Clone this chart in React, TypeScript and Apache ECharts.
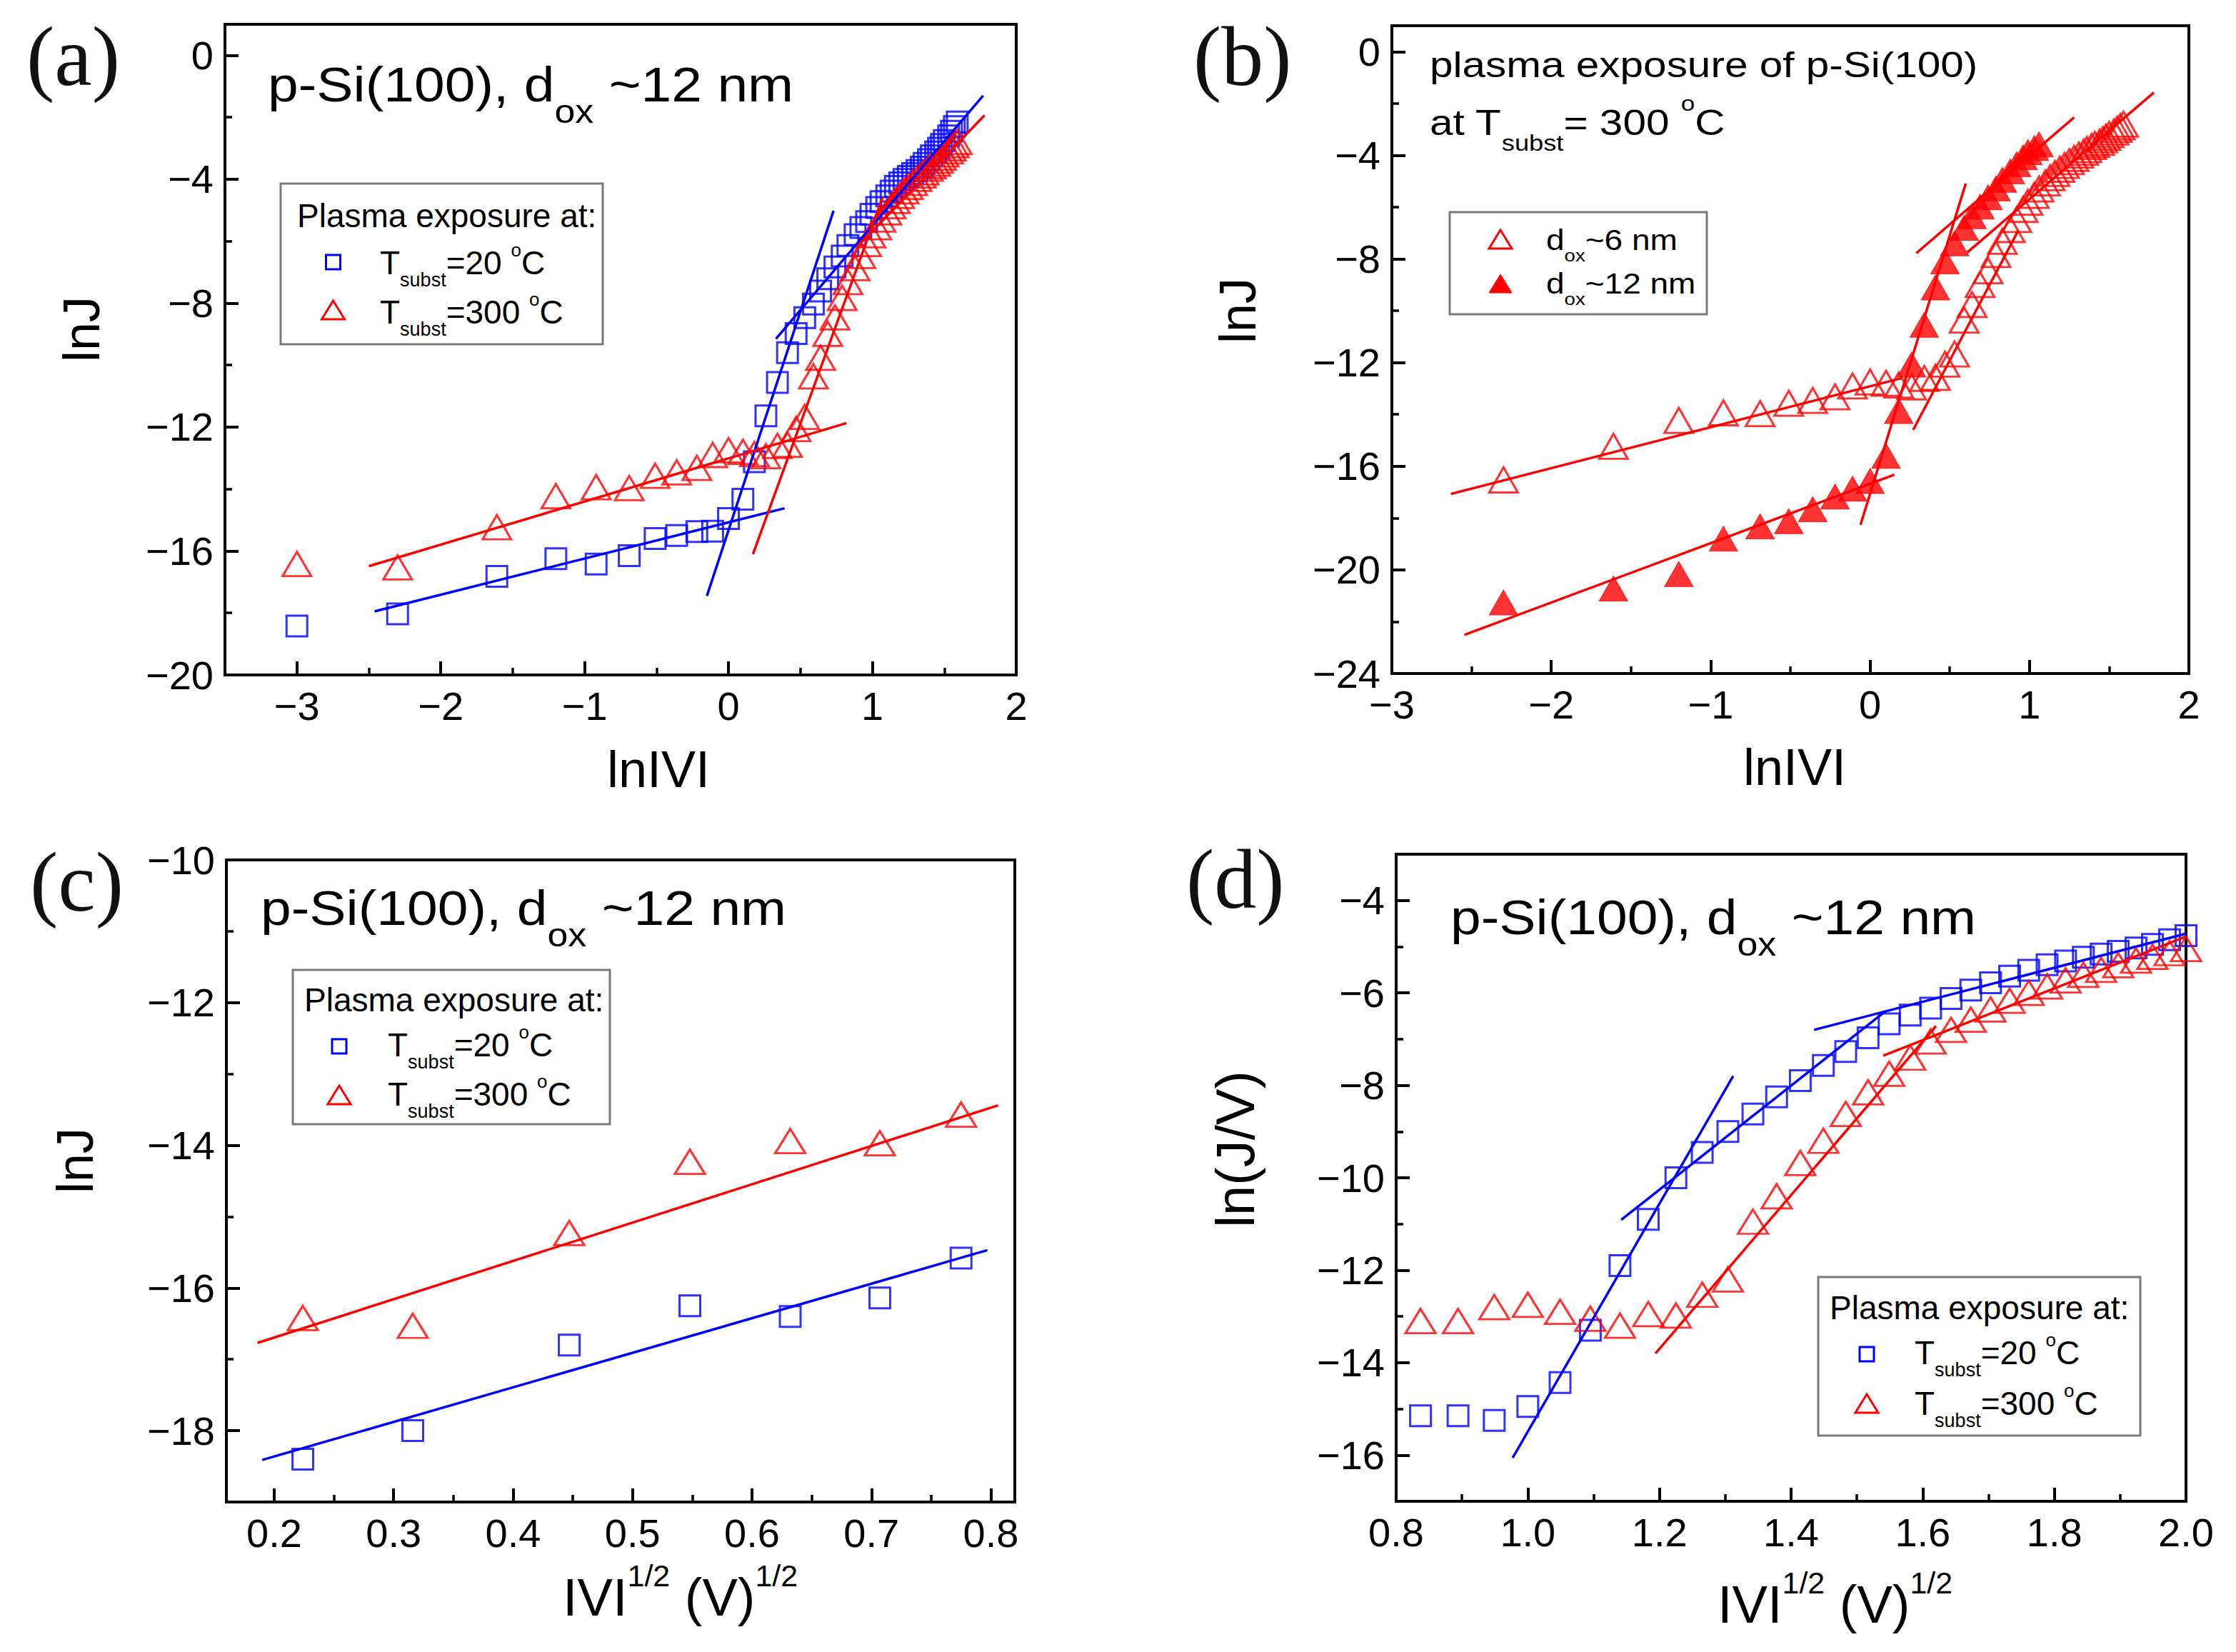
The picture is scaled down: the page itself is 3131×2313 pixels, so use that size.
import React, { useEffect, useRef } from "react";
import * as echarts from "echarts";

// ---------- data ----------
// abscissa of panels (a) and (b): ln|V|
const lnV = [
  -3.0, -2.3, -1.61, -1.2, -0.92, -0.69, -0.51, -0.36, -0.22, -0.11,
  0.0, 0.1, 0.18, 0.26, 0.34, 0.41, 0.47, 0.53, 0.59, 0.64,
  0.69, 0.74, 0.79, 0.83, 0.88, 0.92, 0.96, 0.99, 1.03, 1.06,
  1.1, 1.13, 1.16, 1.19, 1.22, 1.25, 1.28, 1.31, 1.34, 1.36,
  1.39, 1.41, 1.44, 1.46, 1.48, 1.5, 1.53, 1.55, 1.57, 1.59,
];
// (a) lnJ, T_subst = 20 C (blue squares)
const aBlue = [
  -18.42, -18.03, -16.82, -16.25, -16.42, -16.15, -15.6, -15.5, -15.37, -15.36,
  -14.95, -14.33, -13.12, -11.64, -10.56, -9.6, -8.98, -8.47, -8.03, -7.61,
  -7.21, -6.83, -6.48, -6.14, -5.79, -5.56, -5.37, -5.13, -4.91, -4.72,
  -4.54, -4.38, -4.23, -4.12, -4.01, -3.91, -3.82, -3.72, -3.61, -3.49,
  -3.37, -3.25, -3.12, -3.0, -2.88, -2.75, -2.6, -2.45, -2.3, -2.15,
];
// (a) lnJ, T_subst = 300 C (red triangles) ; also the open triangles of (b)
const aRed = [
  -16.42, -16.53, -15.23, -14.23, -13.94, -13.97, -13.57, -13.46, -13.32, -12.9,
  -12.75, -12.8, -12.87, -12.94, -12.61, -12.57, -12.06, -11.67, -10.36, -9.76,
  -8.99, -8.46, -7.83, -7.32, -6.87, -6.48, -6.09, -5.81, -5.55, -5.3,
  -5.07, -4.87, -4.7, -4.54, -4.39, -4.25, -4.12, -3.99, -3.88, -3.78,
  -3.66, -3.58, -3.5, -3.4, -3.3, -3.2, -3.1, -3.0, -2.9, -2.8,
];
// (b) filled triangles, d_ox ~12 nm (x = lnV[1..29])
const bFilled = [
  -21.26, -20.72, -20.16, -18.8, -18.32, -18.12, -17.66, -17.17, -16.87, -16.57,
  -15.6, -13.87, -12.08, -10.54, -9.1, -8.1, -7.4, -6.8, -6.35, -5.98,
  -5.62, -5.28, -4.95, -4.62, -4.35, -4.08, -3.88, -3.72, -3.58,
];
// (c) |V|^1/2 vs lnJ
const cX = [0.224, 0.316, 0.447, 0.548, 0.632, 0.707, 0.775];
const cBlue = [-18.4, -18.0, -16.8, -16.25, -16.4, -16.14, -15.58];
const cRed = [-16.42, -16.53, -15.23, -14.23, -13.94, -13.97, -13.57];
// (d) |V|^1/2 vs ln(J/V)
const dX = [
  0.837, 0.894, 0.949, 1.0, 1.049, 1.095, 1.14, 1.183, 1.225, 1.265,
  1.304, 1.342, 1.378, 1.414, 1.449, 1.483, 1.517, 1.549, 1.581, 1.612,
  1.643, 1.673, 1.703, 1.732, 1.761, 1.789, 1.817, 1.844, 1.871, 1.897,
  1.924, 1.949, 1.975, 2.0,
];
const dBlue = [
  -15.15, -15.15, -15.25, -14.95, -14.43, -13.3, -11.9, -10.9, -10.0, -9.45,
  -9.0, -8.62, -8.25, -7.9, -7.57, -7.27, -6.97, -6.67, -6.48, -6.33,
  -6.12, -5.94, -5.78, -5.64, -5.51, -5.39, -5.31, -5.23, -5.16, -5.1,
  -5.03, -4.95, -4.85, -4.76,
];
const dRed = [
  -13.1, -13.1, -12.8, -12.75, -12.9, -13.05, -13.2, -12.95, -12.98, -12.53,
  -12.2, -10.95, -10.4, -9.68, -9.2, -8.62, -8.15, -7.75, -7.4, -7.05,
  -6.8, -6.58, -6.36, -6.17, -6.0, -5.86, -5.73, -5.61, -5.5, -5.4,
  -5.3, -5.22, -5.14, -5.05,
];

// fitted straight lines (end points)
const aBlueFits = [
  [[-2.46, -17.95], [0.39, -14.62]],
  [[-0.15, -17.45], [0.73, -5.02]],
  [[0.33, -9.15], [1.77, -1.3]],
];
const aRedFits = [
  [[-2.5, -16.49], [0.82, -11.87]],
  [[0.17, -16.1], [1.07, -4.6]],
  [[0.9, -6.15], [1.78, -1.94]],
];
const bOpenFits = [
  [[-2.63, -17.07], [0.2, -12.6]],
  [[0.27, -14.6], [0.93, -6.9]],
  [[0.61, -7.75], [1.78, -1.58]],
];
const bFilledFits = [
  [[-2.545, -22.51], [0.152, -16.33]],
  [[-0.06, -18.26], [0.6, -5.09]],
  [[0.29, -7.78], [1.28, -2.54]],
];
const cRedFit = [[0.186, -16.77], [0.806, -13.44]];
const cBlueFit = [[0.19, -18.41], [0.797, -15.47]];
const dBlueFits = [
  [[0.977, -16.06], [1.312, -7.8]],
  [[1.142, -10.91], [1.543, -6.4]],
  [[1.435, -6.8], [2.0, -4.72]],
];
const dRedFits = [
  [[1.194, -13.8], [1.62, -6.72]],
  [[1.54, -7.36], [2.0, -4.78]],
];

// tick values
const abXMajor = [-3, -2, -1, 0, 1, 2];
const abXMinor = [-2.5, -1.5, -0.5, 0.5, 1.5];
const aYMajor = [-20, -16, -12, -8, -4, 0];
const aYMinor = [-18, -14, -10, -6, -2];
const bYMajor = [-24, -20, -16, -12, -8, -4, 0];
const bYMinor = [-22, -18, -14, -10, -6, -2];
const cXMajor = [0.2, 0.3, 0.4, 0.5, 0.6, 0.7, 0.8];
const cXMinor = [0.25, 0.35, 0.45, 0.55, 0.65, 0.75];
const cYMajor = [-18, -16, -14, -12, -10];
const cYMinor = [-17, -15, -13, -11];
const dXMajor = [0.8, 1.0, 1.2, 1.4, 1.6, 1.8, 2.0];
const dXMinor = [0.9, 1.1, 1.3, 1.5, 1.7, 1.9];
const dYMajor = [-16, -14, -12, -10, -8, -6, -4];
const dYMinor = [-15, -13, -11, -9, -7, -5];

// ---------- helpers ----------
const BLUE = "#0000ff";
const RED = "#ff0000";
const SANS = "Liberation Sans";

const fmtInt = (v: number) => (v < 0 ? "\u2212" : "") + String(Math.abs(v));
const fmt1 = (v: number) => v.toFixed(1);

function axisPair(gridIndex: number, min: number, max: number, major: number[], minor: number[], fmt: (v: number) => string, isX: boolean) {
  const common = {
    type: "value",
    gridIndex,
    min,
    max,
    position: isX ? "bottom" : "left",
    offset: 0,
    axisLine: { show: false, onZero: false },
    splitLine: { show: false },
    silent: true,
  };
  return [
    {
      ...common,
      axisTick: { show: true, inside: true, length: 19, customValues: major, lineStyle: { color: "#000", width: 4 } },
      axisLabel: {
        show: true,
        customValues: major,
        formatter: fmt,
        margin: isX ? 15 : 16,
        color: "#000",
        fontFamily: SANS,
        fontSize: 56,
      },
    },
    {
      ...common,
      axisTick: { show: true, inside: true, length: 10, customValues: minor, lineStyle: { color: "#000", width: 3.5 } },
      axisLabel: { show: false },
    },
  ];
}

const pts = (xs: number[], ys: number[]) => ys.map((y, i) => [xs[i], y]);

function squares(xs: number[], ys: number[], p: number) {
  return {
    type: "scatter",
    xAxisIndex: 2 * p,
    yAxisIndex: 2 * p,
    data: pts(xs, ys),
    symbol: "rect",
    symbolSize: 29,
    itemStyle: { color: "rgba(0,0,0,0)", borderColor: BLUE, borderWidth: 3 },
    silent: true,
    z: 3,
  };
}
function triangles(xs: number[], ys: number[], p: number, filled = false, size: number[] = [40, 34]) {
  return {
    type: "scatter",
    xAxisIndex: 2 * p,
    yAxisIndex: 2 * p,
    data: pts(xs, ys),
    symbol: "triangle",
    symbolSize: size,
    itemStyle: filled
      ? { color: RED, borderColor: RED, borderWidth: 1 }
      : { color: "rgba(0,0,0,0)", borderColor: RED, borderWidth: 3 },
    silent: true,
    z: 3,
  };
}
function fitLine(seg: number[][], color: string, p: number) {
  return {
    type: "line",
    xAxisIndex: 2 * p,
    yAxisIndex: 2 * p,
    data: seg,
    symbol: "none",
    showSymbol: false,
    lineStyle: { color, width: 3.5 },
    silent: true,
    z: 4,
  };
}

const K = 0.3465;
type Part = [string, string];
function richLabel(o: {
  x: number; base: number; parts: Part[]; F: number; fs?: number; ds?: number; fp?: number; dp?: number;
  family?: string; scaleX?: number; align?: string; color?: string;
}) {
  const F = o.F;
  const fs = o.fs ?? F * 0.6;
  const ds = o.ds ?? 0;
  const fp = o.fp ?? F * 0.6;
  const dp = o.dp ?? 0;
  const family = o.family ?? SANS;
  const color = o.color ?? "#000";
  const cm = F;
  const top = o.base - K * F - cm;
  const cs = cm + K * F + ds - K * fs;
  const cp = cm + K * F - dp - K * fp;
  const tok = (size: number, c: number) => ({
    fontSize: size,
    fontFamily: family,
    fill: color,
    lineHeight: 2 * c,
    height: 2 * c,
    verticalAlign: "top",
  });
  return {
    type: "text",
    x: o.x,
    y: top,
    scaleX: o.scaleX ?? 1,
    silent: true,
    z: 100,
    style: {
      text: o.parts.map(([t, k]) => `{${k}|${t}}`).join(""),
      align: o.align ?? "left",
      verticalAlign: "top",
      fontFamily: family,
      fontSize: F,
      fill: color,
      rich: { n: tok(F, cm), s: tok(fs, cs), p: tok(fp, cp) },
    },
  };
}
function vText(x: number, y: number, text: string, F: number) {
  return {
    type: "text",
    x,
    y,
    rotation: Math.PI / 2,
    silent: true,
    z: 100,
    style: { text, align: "center", verticalAlign: "middle", fontFamily: SANS, fontSize: F, fill: "#000" },
  };
}
function box(x: number, y: number, w: number, h: number) {
  return {
    type: "rect",
    silent: true,
    z: 90,
    shape: { x, y, width: w, height: h },
    style: { fill: "none", stroke: "#7a7a7a", lineWidth: 3 },
  };
}
function legSquare(cx: number, cy: number) {
  return {
    type: "rect",
    silent: true,
    z: 95,
    shape: { x: cx - 10, y: cy - 10, width: 20, height: 20 },
    style: { fill: "none", stroke: BLUE, lineWidth: 3 },
  };
}
function legTri(cx: number, cy: number, filled = false, w = 32, h = 26) {
  return {
    type: "polygon",
    silent: true,
    z: 95,
    shape: { points: [[cx, cy - h / 2], [cx - w / 2, cy + h / 2], [cx + w / 2, cy + h / 2]] },
    style: filled ? { fill: RED, stroke: RED, lineWidth: 1 } : { fill: "none", stroke: RED, lineWidth: 3 },
  };
}
function tempItem(x: number, base: number, t: string, F = 46) {
  return richLabel({
    x,
    base,
    parts: [["T", "n"], ["subst", "s"], [`=${t} `, "n"], ["o", "p"], ["C", "n"]],
    F,
    fs: 27,
    ds: 17,
    fp: 26,
    dp: 25,
  });
}
function plasmaLegend(rx: number, ry: number, rw: number, rh: number, tx: number, tb: number, sx: number, sy1: number, sy2: number, ix: number, b1: number, b2: number) {
  return [
    box(rx, ry, rw, rh),
    richLabel({ x: tx, base: tb, parts: [["Plasma exposure at:", "n"]], F: 46 }),
    legSquare(sx, sy1),
    tempItem(ix, b1, "20"),
    legTri(sx, sy2),
    tempItem(ix, b2, "300"),
  ];
}
const doxTitle = (x: number, base: number) =>
  richLabel({ x, base, parts: [["p-Si(100), d", "n"], ["ox", "s"], [" ~12 nm", "n"]], F: 68, fs: 46, ds: 30, scaleX: 1.13 });
const panelLabel = (x: number, base: number, t: string) =>
  richLabel({ x, base, parts: [[t, "n"]], F: 118, family: "Liberation Serif", color: "#111" });

export default function App() {
  const ref = useRef<HTMLDivElement>(null);
  useEffect(() => {
    document.body.style.margin = "0";
    if (!ref.current) return;
    const chart = echarts.init(ref.current, undefined, { renderer: "svg" });

    const grids = [
      { left: 315, top: 34, width: 1108, height: 911 },
      { left: 1949, top: 36, width: 1116, height: 907 },
      { left: 317, top: 1204, width: 1104, height: 899 },
      { left: 1955, top: 1196, width: 1106, height: 906 },
    ].map((g) => ({ ...g, show: true, borderColor: "#000", borderWidth: 4, backgroundColor: "transparent" }));

    const xAxis = [
      ...axisPair(0, -3.5, 2, abXMajor, abXMinor, fmtInt, true),
      ...axisPair(1, -3, 2, abXMajor, abXMinor, fmtInt, true),
      ...axisPair(2, 0.16, 0.82, cXMajor, cXMinor, fmt1, true),
      ...axisPair(3, 0.8, 2.0, dXMajor, dXMinor, fmt1, true),
    ];
    const yAxis = [
      ...axisPair(0, -20, 1, aYMajor, aYMinor, fmtInt, false),
      ...axisPair(1, -24, 1, bYMajor, bYMinor, fmtInt, false),
      ...axisPair(2, -19, -10, cYMajor, cYMinor, fmtInt, false),
      ...axisPair(3, -17, -3, dYMajor, dYMinor, fmtInt, false),
    ];

    const series: any[] = [
      squares(lnV, aBlue, 0),
      triangles(lnV, aRed, 0),
      ...aBlueFits.map((s) => fitLine(s, BLUE, 0)),
      ...aRedFits.map((s) => fitLine(s, RED, 0)),

      triangles(lnV.slice(1), aRed.slice(1), 1, false, [40, 35]),
      triangles(lnV.slice(1, 1 + bFilled.length), bFilled, 1, true, [40, 35]),
      ...bOpenFits.map((s) => fitLine(s, RED, 1)),
      ...bFilledFits.map((s) => fitLine(s, RED, 1)),

      squares(cX, cBlue, 2),
      triangles(cX, cRed, 2, false, [42, 34]),
      fitLine(cRedFit, RED, 2),
      fitLine(cBlueFit, BLUE, 2),

      squares(dX, dBlue, 3),
      triangles(dX, dRed, 3, false, [42, 34]),
      ...dBlueFits.map((s) => fitLine(s, BLUE, 3)),
      ...dRedFits.map((s) => fitLine(s, RED, 3)),
    ];

    const elements: any[] = [
      panelLabel(37, 120, "(a)"),
      panelLabel(1671, 120, "(b)"),
      panelLabel(42, 1276, "(c)"),
      panelLabel(1661, 1272, "(d)"),

      doxTitle(375, 142),
      doxTitle(365, 1295),
      doxTitle(2031, 1308),
      richLabel({ x: 2002, base: 108, parts: [["plasma exposure of p-Si(100)", "n"]], F: 50, scaleX: 1.17 }),
      richLabel({
        x: 2002,
        base: 189,
        parts: [["at T", "n"], ["subst", "s"], ["= 300 ", "n"], ["o", "p"], ["C", "n"]],
        F: 50, fs: 31, ds: 22, fp: 30, dp: 34, scaleX: 1.17,
      }),

      ...plasmaLegend(393, 257, 451, 225, 416, 318, 466.5, 367, 434, 532, 384, 453),
      ...plasmaLegend(410, 1358, 444, 216, 426, 1416, 475, 1465, 1533, 543, 1479, 1548),
      ...plasmaLegend(2546, 1788, 451, 222, 2562, 1847, 2614, 1896, 1965, 2681, 1910, 1981),

      box(2030, 297, 360, 143),
      legTri(2101, 335),
      richLabel({ x: 2165, base: 350, parts: [["d", "n"], ["ox", "s"], ["~6 nm", "n"]], F: 40, fs: 24, ds: 16, scaleX: 1.15 }),
      legTri(2101, 397, true),
      richLabel({ x: 2165, base: 411, parts: [["d", "n"], ["ox", "s"], ["~12 nm", "n"]], F: 40, fs: 24, ds: 16, scaleX: 1.15 }),

      richLabel({ x: 922, base: 1102, parts: [["lnIVI", "n"]], F: 72, align: "center" }),
      richLabel({ x: 2513, base: 1099, parts: [["lnIVI", "n"]], F: 72, align: "center" }),
      richLabel({ x: 788, base: 2262, parts: [["IVI", "n"], ["1/2", "p"], [" (V)", "n"], ["1/2", "p"]], F: 74, fp: 43, dp: 41 }),
      richLabel({ x: 2405, base: 2272, parts: [["IVI", "n"], ["1/2", "p"], [" (V)", "n"], ["1/2", "p"]], F: 74, fp: 43, dp: 41 }),
      vText(114, 461, "lnJ", 72),
      vText(1733, 435, "lnJ", 72),
      vText(105, 1625, "lnJ", 72),
      vText(1729, 1609, "ln(J/V)", 76),
    ];

    chart.setOption({
      animation: false,
      backgroundColor: "#fff",
      textStyle: { fontFamily: SANS },
      grid: grids,
      xAxis,
      yAxis,
      series,
      graphic: { elements },
    });
    return () => chart.dispose();
  }, []);
  return <div ref={ref} style={{ width: 3131, height: 2313 }} />;
}
